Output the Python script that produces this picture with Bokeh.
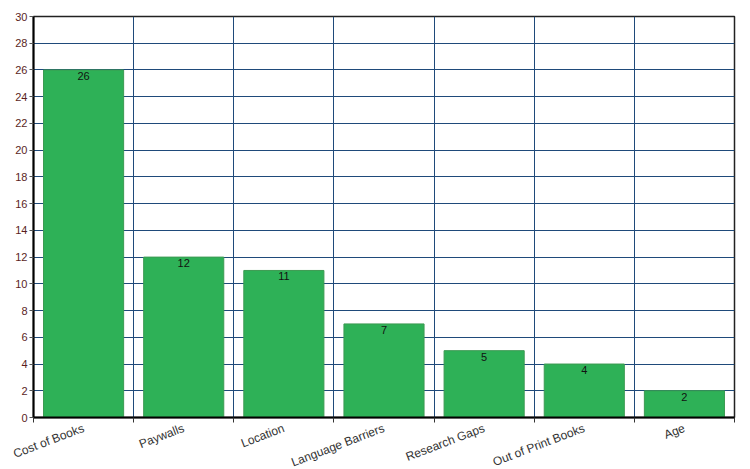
import math
from bokeh.plotting import figure
from bokeh.models import ColumnDataSource, FixedTicker, LabelSet, Range1d
from bokeh.core.properties import value
from bokeh.embed import file_html
from bokeh.resources import INLINE

categories = ["Cost of Books", "Paywalls", "Location", "Language Barriers",
              "Research Gaps", "Out of Print Books", "Age"]
counts = [26, 12, 11, 7, 5, 4, 2]
y_ticks = list(range(0, 31, 2))

xs = [i + 0.5 for i in range(len(categories))]
bounds = list(range(len(categories) + 1))
src = ColumnDataSource(dict(x=xs, top=counts, label=[str(c) for c in counts], cat=categories))

p = figure(frame_width=701, frame_height=401, output_backend="svg", toolbar_location=None,
           x_range=Range1d(0, len(categories)), y_range=Range1d(0, 30),
           min_border_left=33, min_border_right=6, min_border_top=16, min_border_bottom=44)
p.outline_line_color = "#222222"
p.outline_line_width = 1.5
p.background_fill_color = "white"

p.vbar(x="x", top="top", width=0.8, bottom=0, source=src,
       fill_color="#2eb157", line_color="#3c9a52", line_width=1)

labels = LabelSet(x="x", y="top", text="label", source=src, text_align="center",
                  text_baseline="top", y_offset=-2, text_font_size=value("11px"),
                  text_color=value("#111111"), text_font=value("Liberation Sans"))
p.add_layout(labels)

# grid
p.xgrid.ticker = FixedTicker(ticks=bounds)
p.xgrid.grid_line_color = "#1f4a7a"
p.xgrid.grid_line_width = 1
p.ygrid.ticker = FixedTicker(ticks=y_ticks)
p.ygrid.grid_line_color = "#1f4a7a"
p.ygrid.grid_line_width = 1

# y axis
p.yaxis.ticker = FixedTicker(ticks=y_ticks)
p.yaxis.major_label_text_color = "#5a1e1e"
p.yaxis.major_label_text_font = "Liberation Sans"
p.yaxis.major_label_text_font_size = "11px"
p.yaxis.axis_line_color = "black"
p.yaxis.axis_line_width = 2
p.yaxis.major_tick_line_color = "#555555"
p.yaxis.major_tick_in = 0
p.yaxis.major_tick_out = 4
p.yaxis.minor_tick_line_color = None
p.yaxis.major_label_standoff = 2

# x axis
p.xaxis.ticker = FixedTicker(ticks=xs, minor_ticks=bounds)
p.xaxis.major_label_overrides = {x: c for x, c in zip(xs, categories)}
p.xaxis.major_label_orientation = math.radians(21)
p.xaxis.major_label_text_color = "#333333"
p.xaxis.major_label_text_font = "Liberation Sans"
p.xaxis.major_label_text_font_size = "12px"
p.xaxis.axis_line_color = "black"
p.xaxis.axis_line_width = 2
p.xaxis.major_tick_line_color = None
p.xaxis.minor_tick_line_color = "#333333"
p.xaxis.minor_tick_in = 0
p.xaxis.minor_tick_out = 5
p.xaxis.major_label_standoff = 4

open("out.html", "w").write(file_html(p, INLINE))
